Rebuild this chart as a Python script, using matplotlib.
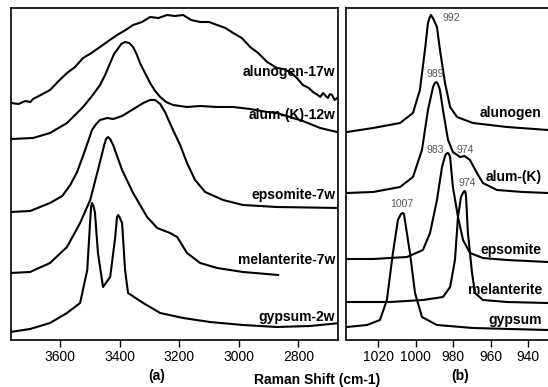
import matplotlib
matplotlib.use("Agg")
import matplotlib.pyplot as plt

plt.rcParams['font.family'] = ['Liberation Sans', 'DejaVu Sans']

# (a) OH stretching region, wavenumber (cm-1) and offset intensity
alunogen_a_x = [3764, 3740, 3717, 3700, 3691, 3665, 3634, 3605, 3577, 3550, 3523, 3495, 3466,
                3438, 3409, 3380, 3355, 3325, 3298, 3270, 3241, 3215, 3187, 3160, 3130,
                3100, 3073, 3045, 3019, 2990, 2962, 2935, 2905, 2872, 2850, 2828, 2805,
                2785, 2765, 2751, 2735, 2727, 2717, 2708, 2701, 2694, 2687, 2678, 2670]
alunogen_a_y = [237, 236, 239, 238, 241, 245, 250, 259, 267, 273, 282, 287, 293,
                299, 305, 310, 315, 318, 323, 322, 325, 324, 325, 320, 318,
                318, 315, 312, 307, 302, 293, 287, 278, 272, 271, 268, 262,
                255, 252, 248, 245, 243, 247, 244, 242, 246, 245, 240, 242]

alum_a_x = [3764, 3691, 3634, 3577, 3523, 3493, 3466, 3449, 3432, 3419, 3409, 3395, 3382,
            3368, 3355, 3342, 3332, 3315, 3298, 3281, 3264, 3244, 3221, 3174, 3130,
            3073, 3019, 2962, 2905, 2872, 2785, 2727, 2670]
alum_a_y = [201, 202, 207, 217, 233, 244, 255, 265, 277, 286, 290, 296, 298,
            297, 293, 285, 277, 267, 257, 249, 243, 238, 235, 233, 234,
            233, 233, 231, 228, 227, 219, 212, 208]

epsomite_a_x = [3764, 3701, 3634, 3593, 3566, 3543, 3516, 3493, 3479, 3466, 3442, 3422,
                3392, 3348, 3321, 3298, 3281, 3264, 3248, 3221, 3197, 3174, 3147, 3113,
                3053, 2986, 2872, 2660]
epsomite_a_y = [128, 129, 137, 144, 155, 168, 190, 210, 216, 220, 222, 221,
                224, 232, 237, 240, 240, 236, 228, 210, 195, 177, 160, 148,
                140, 135, 133, 132]

melanterite_a_x = [3768, 3701, 3634, 3577, 3533, 3499, 3473, 3452, 3446, 3439, 3432, 3422,
                   3392, 3355, 3308, 3274, 3231, 3207, 3174, 3130, 3073, 2986, 2868]
melanterite_a_y = [67, 68, 77, 93, 117, 140, 170, 195, 201, 203, 201, 195,
                   170, 147, 123, 112, 107, 103, 87, 77, 72, 68, 65]

gypsum_a_x = [3768, 3701, 3634, 3577, 3533, 3509, 3499, 3496, 3493, 3488, 3483, 3473,
              3456, 3432, 3415, 3409, 3405, 3401, 3392, 3382, 3372, 3321, 3264, 3187,
              3097, 2986, 2872, 2761, 2660]
gypsum_a_y = [8, 11, 17, 27, 37, 70, 120, 133, 137, 134, 127, 87,
              53, 63, 103, 123, 125, 123, 117, 70, 47, 37, 27, 22,
              18, 15, 13, 14, 17]

# (b) SO4 symmetric stretching region
alunogen_b_x = [1036.7, 1022.8, 1008.4, 1001.5, 997.8, 995.1, 993.5, 992.7, 991.9, 990.6,
                988.7, 987.1, 984.4, 981.7, 978.0, 969.5, 951.4, 929.5]
alunogen_b_y = [208, 212, 217, 227, 250, 290, 317, 322, 325, 321,
                313, 290, 257, 233, 223, 217, 213, 210]

alum_b_x = [1036.7, 1022.8, 1008.4, 1001.5, 996.7, 993.5, 990.8, 989.8, 989.0, 988.2,
            987.1, 985.5, 982.8, 980.2, 976.4, 974.0, 971.1, 967.4, 964.2, 956.7,
            942.8, 929.5]
alum_b_y = [147, 148, 153, 163, 190, 230, 253, 257, 258, 256,
            250, 230, 200, 188, 183, 184, 180, 167, 157, 150,
            148, 147]

epsomite_b_x = [1036.7, 1022.8, 1004.7, 996.2, 992.4, 988.7, 986.0, 984.4, 983.9, 983.0,
                982.3, 981.7, 980.2, 977.5, 974.8, 971.1, 964.2, 951.4, 929.5]
epsomite_b_y = [81, 81, 83, 90, 107, 140, 173, 184, 186, 187,
                186, 183, 153, 123, 100, 87, 82, 80, 78]

melanterite_b_x = [1036.7, 1013.8, 996.2, 985.5, 981.7, 979.1, 977.5, 975.9, 974.6, 974.0,
                   973.5, 973.2, 972.2, 970.0, 968.4, 964.2, 951.4, 929.5]
melanterite_b_y = [38, 38, 40, 43, 53, 80, 123, 143, 148, 149,
                   148, 143, 107, 67, 47, 40, 38, 37]

gypsum_b_x = [1036.7, 1026.0, 1019.1, 1015.4, 1012.2, 1009.5, 1007.9, 1007.0, 1006.3,
              1005.8, 1003.1, 1000.4, 996.7, 988.7, 969.5, 929.5]
gypsum_b_y = [13, 15, 20, 40, 87, 120, 126, 127, 126, 120, 87, 47, 23, 15, 12, 10]

labels_a = ["alunogen-17w", "alum-(K)-12w", "epsomite-7w", "melanterite-7w", "gypsum-2w"]
labels_a_y = [268, 225, 145, 80, 23]
labels_b = ["alunogen", "alum-(K)", "epsomite", "melanterite", "gypsum"]
labels_b_y = [227, 163, 90, 50, 20]

peak_text = ["992", "989", "983", "974", "974", "1007"]
peak_x = [985.5, 989.8, 989.8, 973.9, 972.5, 1007.4]
peak_y = [322, 266, 190, 190, 157, 136]

fig = plt.figure(figsize=(5.48, 3.87), dpi=100)
ax1 = fig.add_axes([11 / 548, 47 / 387, 327 / 548, 332 / 387])
ax2 = fig.add_axes([346 / 548, 47 / 387, 202 / 548, 332 / 387])

series_a = [(alunogen_a_x, alunogen_a_y), (alum_a_x, alum_a_y), (epsomite_a_x, epsomite_a_y),
            (melanterite_a_x, melanterite_a_y), (gypsum_a_x, gypsum_a_y)]
series_b = [(alunogen_b_x, alunogen_b_y), (alum_b_x, alum_b_y), (epsomite_b_x, epsomite_b_y),
            (melanterite_b_x, melanterite_b_y), (gypsum_b_x, gypsum_b_y)]

for x, y in series_a:
    ax1.plot(x, y, color="black", lw=1.5, solid_joinstyle="round")
for x, y in series_b:
    ax2.plot(x, y, color="black", lw=1.5, solid_joinstyle="round")

for lab, yy in zip(labels_a, labels_a_y):
    ax1.text(2677, yy, lab, ha="right", va="center", fontsize=10, fontweight="bold")
for lab, yy in zip(labels_b, labels_b_y):
    ax2.text(932.8, yy, lab, ha="right", va="center", fontsize=10, fontweight="bold")

for t, xx, yy in zip(peak_text, peak_x, peak_y):
    ha = "left" if t == "992" else "center"
    ax2.text(xx, yy, t, ha=ha, va="center", fontsize=7.5, color="#555555",
             family=["Liberation Sans Narrow", "Liberation Sans"])

ax1.set_xlim(3765, 2667)
ax2.set_xlim(1037.2, 929.5)
for ax in (ax1, ax2):
    ax.set_ylim(0, 332)
    ax.set_yticks([])
    ax.tick_params(axis="x", direction="out", length=5, width=1, labelsize=10, pad=2)
    for s in ax.spines.values():
        s.set_linewidth(1.2)
ax2.spines["right"].set_visible(False)

ax1.set_xticks([3600, 3400, 3200, 3000, 2800])
ax2.set_xticks([1020, 1000, 980, 960, 940])

fig.text(157 / 548, 1 - 376 / 387, "(a)", ha="center", va="center", fontsize=10, fontweight="bold")
fig.text(460 / 548, 1 - 376 / 387, "(b)", ha="center", va="center", fontsize=10, fontweight="bold")
fig.text(317 / 548, 1 - 380 / 387, "Raman Shift (cm-1)", ha="center", va="center",
         fontsize=10, fontweight="bold")

fig.savefig("out.png", dpi=100)
